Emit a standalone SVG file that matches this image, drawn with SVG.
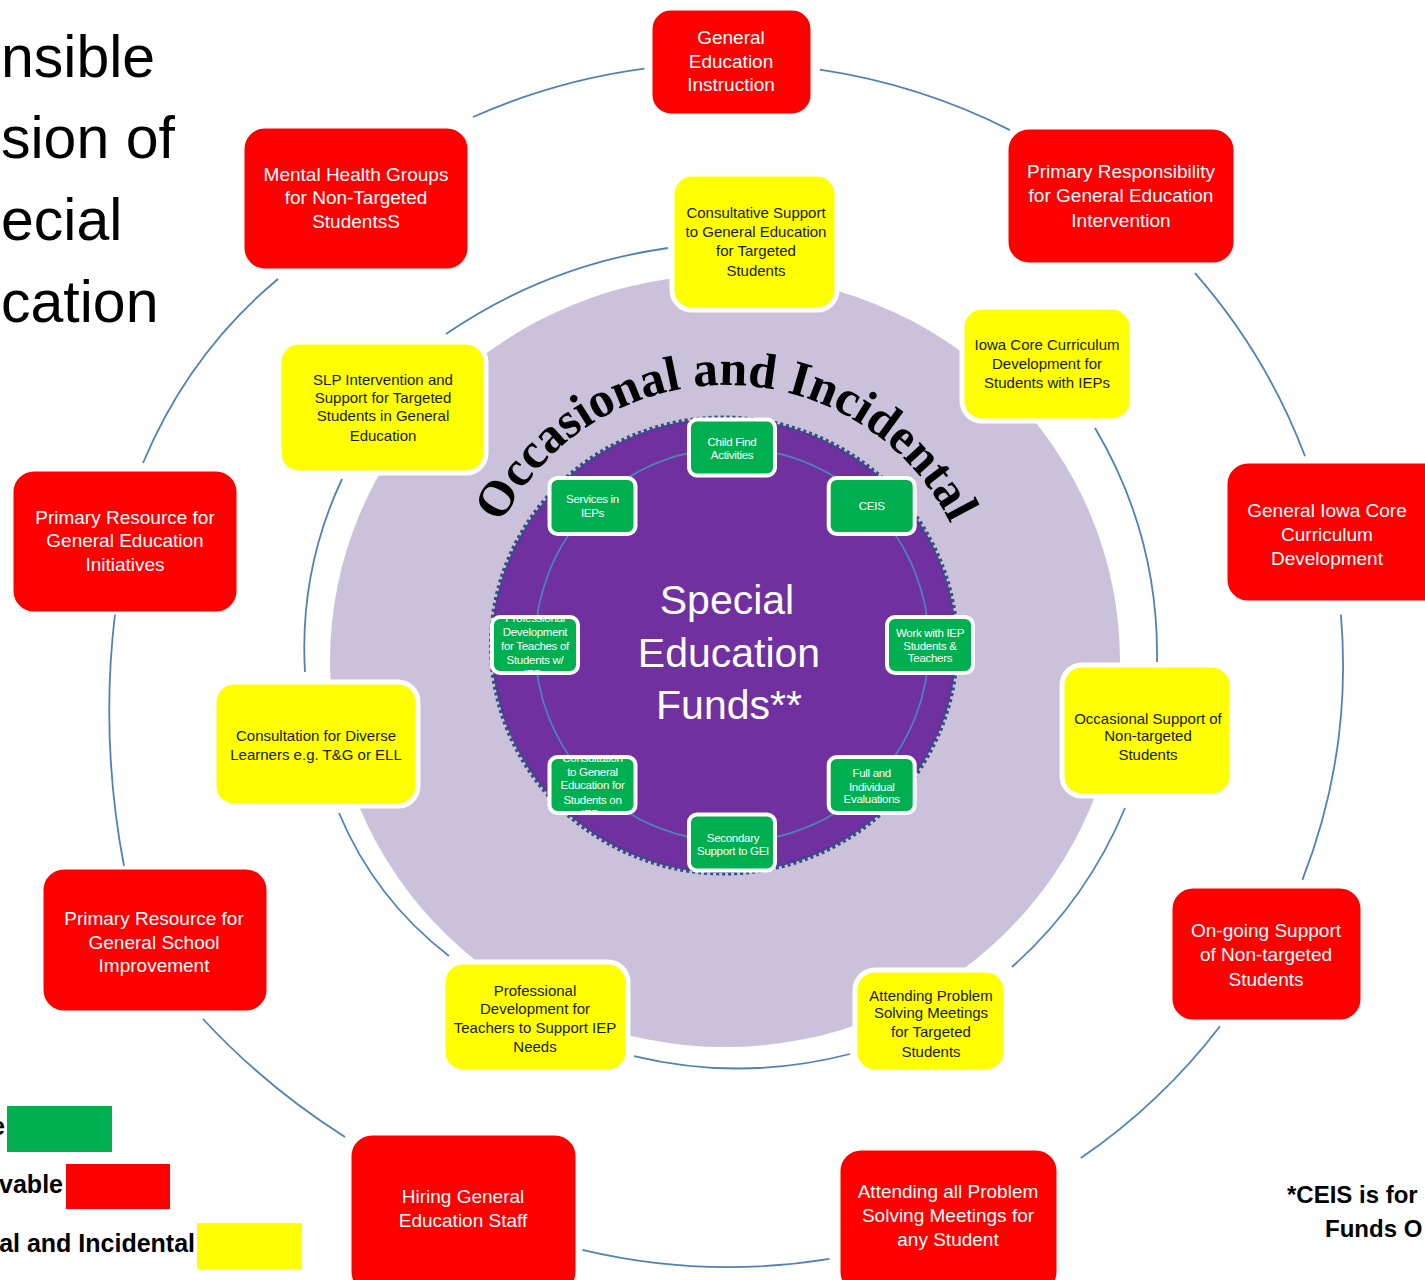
<svg xmlns="http://www.w3.org/2000/svg" width="1425" height="1280" viewBox="0 0 1425 1280">
<defs>
<style>
.conn{fill:none;stroke:#4f81bd;stroke-width:1.8}
.red{fill:#ff0000;stroke:#ffffff;stroke-width:3}
.yel{fill:#ffff00;stroke:#ffffff;stroke-width:5}
.grn{fill:#00b050;stroke:#ffffff;stroke-width:4}
.rt{font-family:"Liberation Sans",Arial,sans-serif;font-size:19px;fill:#ffffff;text-anchor:middle}
.yt{font-family:"Liberation Sans",Arial,sans-serif;font-size:15px;fill:#1a1a00;text-anchor:middle}
.gt{font-family:"Liberation Sans",Arial,sans-serif;font-size:11.5px;fill:#ffffff;text-anchor:middle;letter-spacing:-0.3px}
.ct{font-family:"Liberation Sans",Arial,sans-serif;font-size:41px;fill:#ffffff;text-anchor:middle}
.arc{font-family:"Liberation Serif","Times New Roman",serif;font-size:50px;font-weight:bold;fill:#000000}
.title{font-family:"Liberation Sans",Arial,sans-serif;font-size:59px;fill:#000000}
.leg{font-family:"Liberation Sans",Arial,sans-serif;font-size:25px;font-weight:bold;fill:#000000;text-anchor:end}
.note{font-family:"Liberation Sans",Arial,sans-serif;font-size:24px;font-weight:bold;fill:#000000}
</style>
<path id="arcPath" d="M475,636 A251,251 0 0 1 977,636"/>
<clipPath id="clipPD"><rect x="493" y="619" width="84" height="52" rx="7"/></clipPath>
<clipPath id="clipCO"><rect x="551" y="759" width="83" height="52" rx="7"/></clipPath>
<clipPath id="clipSE"><rect x="691" y="816" width="82" height="52" rx="7"/></clipPath>
</defs>
<rect x="0" y="0" width="1425" height="1280" fill="#ffffff"/>

<ellipse id="lavender" cx="725" cy="661" rx="395" ry="386" fill="#ccc1da"/>

<g id="connectors">
<path class="conn" d="M473,117 A615,602 0 0 1 644.5,68.6"/>
<path class="conn" d="M819.9,69.7 A615,602 0 0 1 1010,130.1"/>
<path class="conn" d="M1195,273.2 A615,602 0 0 1 1305,456.2"/>
<path class="conn" d="M1340.9,614.6 A615,602 0 0 1 1302.4,879.8"/>
<path class="conn" d="M1220,1026.2 A615,602 0 0 1 1080.8,1158.1"/>
<path class="conn" d="M829.5,1258.8 A615,602 0 0 1 582.4,1249.9"/>
<path class="conn" d="M345,1137 Q266,1087 203,1019"/>
<path class="conn" d="M124,866 Q100,740 115,614"/>
<path class="conn" d="M143,463 Q189,353 278,279"/>
<path class="conn" d="M446,334 Q547,265 668,248"/>
<path class="conn" d="M1095,428 Q1159,536 1157,662"/>
<path class="conn" d="M1125,808 Q1087,900 1012,967"/>
<path class="conn" d="M850,1054 Q742,1082 634,1056"/>
<path class="conn" d="M449,956 Q375,899 339,813"/>
<path class="conn" d="M305,672 Q299,571 342,479"/>
</g>

<ellipse id="purple" cx="724" cy="645.5" rx="232.5" ry="227.5" fill="#7030a0" stroke="#2f5080" stroke-width="5" stroke-dasharray="3 3"/>
<circle id="inner-ring" class="conn" cx="732" cy="645" r="197"/>

<text class="arc"><textPath href="#arcPath" startOffset="50%" text-anchor="middle">Occasional and Incidental</textPath></text>

<g id="center">
<text class="ct" x="727" y="614">Special</text>
<text class="ct" x="729" y="667">Education</text>
<text class="ct" x="729" y="719">Funds**</text>
</g>

<g id="n-childfind"><rect class="grn" x="689" y="419.5" width="86" height="56" rx="8"/>
<text class="gt" x="732" y="445.5">Child Find</text><text class="gt" x="732" y="459">Activities</text></g>
<g id="n-services"><rect class="grn" x="549.5" y="478" width="86" height="56" rx="8"/>
<text class="gt" x="592.5" y="503">Services in</text><text class="gt" x="592.5" y="516.5">IEPs</text></g>
<g id="n-ceis"><rect class="grn" x="828.7" y="478" width="86" height="56" rx="8"/>
<text class="gt" x="871.7" y="510">CEIS</text></g>
<g id="n-work"><rect class="grn" x="887" y="617" width="86" height="56" rx="8"/>
<text class="gt" x="930" y="637">Work with IEP</text><text class="gt" x="930" y="649.5">Students &amp;</text><text class="gt" x="930" y="662">Teachers</text></g>
<g id="n-profdev-iep"><rect class="grn" x="492" y="617" width="86" height="56" rx="8"/>
<g clip-path="url(#clipPD)">
<text class="gt" x="535" y="622">Professional</text><text class="gt" x="535" y="636">Development</text><text class="gt" x="535" y="649.5">for Teaches of</text><text class="gt" x="535" y="664">Students w/</text><text class="gt" x="535" y="678">IEPs</text></g></g>
<g id="n-consult-iep"><rect class="grn" x="549.5" y="757" width="86" height="56" rx="8"/>
<g clip-path="url(#clipCO)">
<text class="gt" x="592.5" y="762">Consultation</text><text class="gt" x="592.5" y="775.5">to General</text><text class="gt" x="592.5" y="789">Education for</text><text class="gt" x="592.5" y="804">Students on</text><text class="gt" x="592.5" y="817.5">IEPs</text></g></g>
<g id="n-full"><rect class="grn" x="828.7" y="757" width="86" height="56" rx="8"/>
<text class="gt" x="871.7" y="776.5">Full and</text><text class="gt" x="871.7" y="790.5">Individual</text><text class="gt" x="871.7" y="802.5">Evaluations</text></g>
<g id="n-secondary"><rect class="grn" x="689" y="814.5" width="86" height="56" rx="8"/>
<g clip-path="url(#clipSE)">
<text class="gt" x="733" y="841.5">Secondary</text><text class="gt" x="733" y="855">Support to GEI</text></g></g>

<g id="y-consultative"><rect class="yel" x="672" y="174" width="165" height="136" rx="20"/>
<text class="yt" x="756" y="218">Consultative Support</text><text class="yt" x="756" y="237">to General Education</text><text class="yt" x="756" y="256">for Targeted</text><text class="yt" x="756" y="276">Students</text></g>
<g id="y-iowa"><rect class="yel" x="962" y="307" width="170" height="114" rx="20"/>
<text class="yt" x="1047" y="350">Iowa Core Curriculum</text><text class="yt" x="1047" y="369">Development for</text><text class="yt" x="1047" y="388">Students with IEPs</text></g>
<g id="y-occasional"><rect class="yel" x="1062" y="665" width="170" height="131" rx="20"/>
<text class="yt" x="1148" y="724">Occasional Support of</text><text class="yt" x="1148" y="741">Non-targeted</text><text class="yt" x="1148" y="760">Students</text></g>
<g id="y-attending"><rect class="yel" x="855" y="970" width="151" height="102" rx="20"/>
<text class="yt" x="931" y="1001">Attending Problem</text><text class="yt" x="931" y="1018">Solving Meetings</text><text class="yt" x="931" y="1037">for Targeted</text><text class="yt" x="931" y="1057">Students</text></g>
<g id="y-profdev"><rect class="yel" x="443" y="962" width="185" height="110" rx="20"/>
<text class="yt" x="535" y="996">Professional</text><text class="yt" x="535" y="1014">Development for</text><text class="yt" x="535" y="1033">Teachers to Support IEP</text><text class="yt" x="535" y="1052">Needs</text></g>
<g id="y-diverse"><rect class="yel" x="214" y="682" width="204" height="124" rx="20"/>
<text class="yt" x="316" y="741">Consultation for Diverse</text><text class="yt" x="316" y="760">Learners e.g. T&amp;G or ELL</text></g>
<g id="y-slp"><rect class="yel" x="279" y="342" width="207" height="131" rx="20"/>
<text class="yt" x="383" y="385">SLP Intervention and</text><text class="yt" x="383" y="403">Support for Targeted</text><text class="yt" x="383" y="421">Students in General</text><text class="yt" x="383" y="441">Education</text></g>

<g id="r-geninstr"><rect class="red" x="651" y="9" width="161" height="106" rx="20"/>
<text class="rt" x="731" y="44">General</text><text class="rt" x="731" y="68">Education</text><text class="rt" x="731" y="91">Instruction</text></g>
<g id="r-mental"><rect class="red" x="243" y="127" width="226" height="143" rx="22"/>
<text class="rt" x="356" y="181">Mental Health Groups</text><text class="rt" x="356" y="204">for Non-Targeted</text><text class="rt" x="356" y="228">StudentsS</text></g>
<g id="r-primresp"><rect class="red" x="1007" y="128" width="228" height="136" rx="22"/>
<text class="rt" x="1121" y="178">Primary Responsibility</text><text class="rt" x="1121" y="202">for General Education</text><text class="rt" x="1121" y="227">Intervention</text></g>
<g id="r-iowacore"><rect class="red" x="1226" y="462" width="230" height="140" rx="22"/>
<text class="rt" x="1327" y="517">General Iowa Core</text><text class="rt" x="1327" y="541">Curriculum</text><text class="rt" x="1327" y="565">Development</text></g>
<g id="r-initiatives"><rect class="red" x="12" y="470" width="226" height="143" rx="22"/>
<text class="rt" x="125" y="524">Primary Resource for</text><text class="rt" x="125" y="547">General Education</text><text class="rt" x="125" y="571">Initiatives</text></g>
<g id="r-ongoing"><rect class="red" x="1171" y="887" width="191" height="134" rx="22"/>
<text class="rt" x="1266" y="937">On-going Support</text><text class="rt" x="1266" y="961">of Non-targeted</text><text class="rt" x="1266" y="986">Students</text></g>
<g id="r-school"><rect class="red" x="42" y="868" width="226" height="144" rx="22"/>
<text class="rt" x="154" y="925">Primary Resource for</text><text class="rt" x="154" y="949">General School</text><text class="rt" x="154" y="972">Improvement</text></g>
<g id="r-hiring"><rect class="red" x="350" y="1134" width="227" height="160" rx="22"/>
<text class="rt" x="463" y="1203">Hiring General</text><text class="rt" x="463" y="1227">Education Staff</text></g>
<g id="r-attendall"><rect class="red" x="839" y="1149" width="219" height="145" rx="22"/>
<text class="rt" x="948" y="1198">Attending all Problem</text><text class="rt" x="948" y="1222">Solving Meetings for</text><text class="rt" x="948" y="1246">any Student</text></g>

<g id="title">
<text class="title" x="1" y="77">nsible</text>
<text class="title" x="1" y="158">sion of</text>
<text class="title" x="1" y="240">ecial</text>
<text class="title" x="1" y="322">cation</text>
</g>

<g id="legend">
<text class="leg" x="5" y="1135">e</text>
<rect x="7" y="1106" width="105" height="46" fill="#00b050"/>
<text class="leg" x="63" y="1193">vable</text>
<rect x="66" y="1164" width="104" height="45" fill="#ff0000"/>
<text class="leg" x="195" y="1252">al and Incidental</text>
<rect x="197" y="1223" width="105" height="46" fill="#ffff00"/>
</g>

<g id="note">
<text class="note" x="1287" y="1203">*CEIS is for</text>
<text class="note" x="1325" y="1237">Funds O</text>
</g>
</svg>
